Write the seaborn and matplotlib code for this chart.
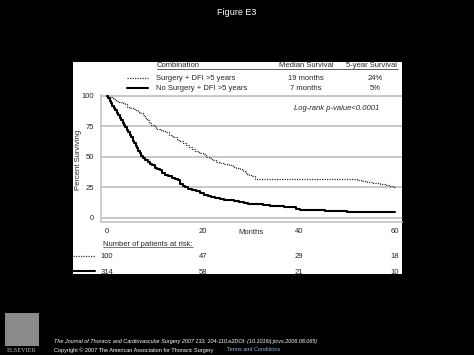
import matplotlib
matplotlib.use("Agg")
import matplotlib.pyplot as plt
import seaborn as sns
from matplotlib.lines import Line2D
from matplotlib.patches import Rectangle
from matplotlib.transforms import blended_transform_factory

# Kaplan-Meier steps (months, percent surviving)
surg_months = [0, 0.5, 1.0, 1.5, 2.0, 2.6, 3.2, 3.8, 4.3, 4.8, 5.4, 6.0, 6.5, 7.0, 7.5,
               8.0, 8.4, 8.8, 9.3, 9.8, 10.3, 11.0, 11.7, 12.3, 12.9, 13.5, 14.1, 14.7, 15.3, 15.9,
               16.5, 17.1, 17.7, 18.4, 19.2, 20.0, 20.6, 21.3, 22.0, 22.8, 23.6, 24.5, 25.4, 26.2, 27.0,
               27.7, 28.4, 29.0, 29.6, 30.2, 30.8, 52.0, 53.0, 54.2, 55.5, 56.9, 58.0, 59.0, 59.8, 60.0]
surg_pct = [100, 99, 98, 97, 96, 95, 94, 93, 91, 90, 89, 88, 87, 86, 84,
            82, 80, 78, 76, 75, 73, 72, 71, 70, 68, 67, 66, 64, 63, 61,
            60, 58, 56, 55, 53, 52, 50, 49, 47, 46, 45, 44, 43, 42, 41,
            40, 38, 36, 35, 34, 32, 31, 30, 29, 28.5, 28, 27, 26, 25, 25]

nosurg_months = [0, 0.3, 0.6, 0.9, 1.2, 1.5, 1.8, 2.1, 2.4, 2.7, 3.0, 3.3, 3.6, 3.9, 4.2,
                 4.5, 4.8, 5.1, 5.4, 5.7, 6.0, 6.3, 6.6, 6.9, 7.2, 7.6, 8.0, 8.5, 9.0, 9.5,
                 10.0, 10.5, 11.0, 11.6, 12.2, 12.8, 13.5, 14.2, 14.8, 15.3, 15.8, 16.3, 17.0, 17.8, 18.6,
                 19.4, 20.2, 21.0, 21.8, 22.6, 23.5, 24.5, 25.5, 26.5, 27.5, 28.5, 29.5, 31.0, 32.5, 34.0,
                 35.5, 37.0, 38.5, 39.5, 40.3, 45.5, 47.0, 50.0, 60.0]
nosurg_pct = [100, 98, 96, 94, 92, 90, 88, 86, 84, 82, 80, 78, 76, 74, 72,
              70, 68, 66, 63, 61, 59, 57, 55, 53, 51, 49, 47, 46, 44, 43,
              41, 40, 39, 37, 35, 34, 33, 32, 31, 28, 26, 25, 24, 23, 22,
              20, 19, 18, 17, 16, 15.5, 15, 14.5, 14, 13, 12, 11.5, 11, 10.5, 10,
              9.5, 9, 8.5, 7.5, 6.5, 6, 5.5, 5, 5]

groups = ["Surgery + DFI >5 years", "No Surgery + DFI >5 years"]
median_surv = ["19 months", "7 months"]
five_year = ["24%", "5%"]
risk_months = [0, 20, 40, 60]
risk_surg = [100, 47, 29, 18]
risk_nosurg = [314, 58, 21, 10]

sns.set_style("white")
plt.rcParams['font.family'] = ['Liberation Sans', 'DejaVu Sans']

W, H = 474, 355
fig = plt.figure(figsize=(W / 100, H / 100), dpi=100, facecolor="black")


def px(x, y):
    # pixel position -> figure fraction
    return x / W, 1 - y / H


# white panel holding the graph
x0, y0 = px(73, 274.3)
panel = Rectangle((x0, y0), (402 - 73) / W, (274.3 - 62) / H, transform=fig.transFigure,
                  facecolor="white", edgecolor="none", zorder=0)
fig.add_artist(panel)

fig.text(*px(237, 12.5), "Figure E3", color="white", fontsize=6.5, ha="center", va="center")

ax = fig.add_axes([101 / W, 1 - 222 / H, (402 - 101) / W, (222 - 95) / H])
ax.set_facecolor("none")

dot_style = dict(color="#333333", linewidth=0.9, linestyle=(0, (1, 1)))
solid_style = dict(color="black", linewidth=1.5)

sns.lineplot(x=surg_months, y=surg_pct, drawstyle="steps-post", estimator=None, sort=False,
             ax=ax, **dot_style)
sns.lineplot(x=nosurg_months, y=nosurg_pct, drawstyle="steps-post", estimator=None, sort=False,
             ax=ax, **solid_style)

ax.set_xlim(-1.19, 61.46)
ax.set_ylim(-3.4, 100.6)
ax.set_xticks(risk_months)
ax.set_yticks([0, 25, 50, 75, 100])
for v in [0, 25, 50, 75, 100]:
    ax.axhline(v, color="#c4c4c4", linewidth=1.3, zorder=0)
for s in ["top", "right"]:
    ax.spines[s].set_visible(False)
for s in ["left", "bottom"]:
    ax.spines[s].set_color("#c4c4c4")
    ax.spines[s].set_linewidth(1.2)
ax.tick_params(axis="y", length=4, width=0.7, color="#444444", labelsize=5.5, pad=1)
ax.tick_params(axis="x", length=2.5, width=0.7, color="#444444", labelsize=5.5, pad=2)
ax.set_xlabel("")
ax.set_ylabel("Percent Surviving", fontsize=5.5)
ax.yaxis.set_label_coords((82 - 101) / 301, (222 - 160) / 127)

fig.text(*px(251, 232), "Months", fontsize=5.5, ha="center", va="center")
fig.text(*px(337, 109), "Log-rank p-value<0.0001", fontsize=5.5, style="italic",
         ha="center", va="center")

# header table
fig.text(*px(157, 67), "Combination", fontsize=5.5, ha="left", va="baseline")
fig.text(*px(306, 67), "Median Survival", fontsize=5.5, ha="center", va="baseline")
fig.text(*px(371, 67), "5-year Survival", fontsize=5.5, ha="center", va="baseline")
fig.add_artist(Line2D([157 / W, 398 / W], [1 - 68.7 / H] * 2, transform=fig.transFigure,
                      color="#444444", linewidth=0.6))
for i, yy in enumerate([78, 88]):
    style = dot_style if i == 0 else solid_style
    fig.add_artist(Line2D([127 / W, 148 / W], [1 - yy / H] * 2, transform=fig.transFigure, **style))
    fig.text(*px(156, yy), groups[i], fontsize=5.5, ha="left", va="center")
    fig.text(*px(306, yy), median_surv[i], fontsize=5.5, ha="center", va="center")
    fig.text(*px(375, yy), five_year[i], fontsize=5.5, ha="center", va="center")

# number at risk
fig.text(*px(103, 245.5), "Number of patients at risk:", fontsize=5.5, ha="left", va="baseline")
fig.add_artist(Line2D([103 / W, 193 / W], [1 - 247 / H] * 2, transform=fig.transFigure,
                      color="#444444", linewidth=0.5))
trans = blended_transform_factory(ax.transData, fig.transFigure)
fig.add_artist(Line2D([73 / W, 95 / W], [1 - 256.3 / H] * 2, transform=fig.transFigure, **dot_style))
fig.add_artist(Line2D([73 / W, 95 / W], [1 - 271 / H] * 2, transform=fig.transFigure, **solid_style))
for m, a, b in zip(risk_months, risk_surg, risk_nosurg):
    fig.text(m, 1 - 256.3 / H, str(a), fontsize=5.5, ha="center", va="center", transform=trans)
    t = fig.text(m, 1 - 272.3 / H, str(b), fontsize=5.5, ha="center", va="center", transform=trans)
    t.set_clip_path(panel)

# footer
fig.add_artist(Rectangle(px(5, 346), 34 / W, 33 / H, transform=fig.transFigure,
                         facecolor="#8a8a8a", edgecolor="none", hatch="xxxx"))
fig.text(*px(22, 351), "ELSEVIER", color="#bbbbbb", fontsize=4.5, family="Liberation Serif",
         ha="center", va="center")
fig.text(*px(54, 341.7), "The Journal of Thoracic and Cardiovascular Surgery 2007 133, 104-110.e2DOI: "
         "(10.1016/j.jtcvs.2006.08.065)", color="white", fontsize=4, style="italic", ha="left", va="center")
fig.text(*px(54, 349.7), "Copyright \u00a9 2007 The American Association for Thoracic Surgery",
         color="white", fontsize=4, ha="left", va="center")
fig.text(*px(227, 349.7), "Terms and Conditions", color="#9fb3d9", fontsize=4, ha="left", va="center")

fig.savefig("out.png", dpi=100, facecolor="black")
